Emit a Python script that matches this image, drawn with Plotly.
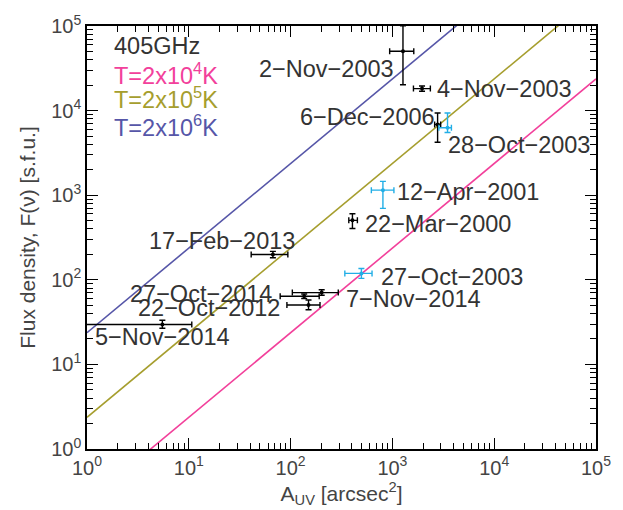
import numpy as np
import plotly.graph_objects as go

# ---------------- data ----------------
dates = ["2−Nov−2003", "4−Nov−2003", "6−Dec−2006", "28−Oct−2003", "12−Apr−2001",
         "22−Mar−2000", "27−Oct−2003", "7−Nov−2014", "17−Feb−2013", "27−Oct−2014",
         "22−Oct−2012", "5−Nov−2014"]
area = [1270, 1955, 2780, 3480, 807, 405, 496, 202, 67, 136, 150, 5.5]
area_minus = [330, 345, 180, 620, 186, 32, 155, 98, 26, 57, 58, 5.2]
area_plus = [352, 405, 200, 320, 228, 48, 135, 92, 27, 55, 44.5, 5.2]
flux = [50300, 18200, 6860, 6280, 1148, 504, 119, 70.6, 199, 64, 50.4, 29.6]
flux_minus = [30100, 1300, 2640, 780, 449, 100, 15, 4.8, 17, 4, 6.2, 2.9]
flux_plus = [50000, 1300, 2500, 3080, 310, 99, 17, 5.8, 18, 4, 7.2, 3.7]
is_cyan = [False, False, False, True, True, False, True, False, False, False, False, False]

temps = [2e4, 2e5, 2e6]
temp_labels = ["T=2x10<sup>4</sup>K", "T=2x10<sup>5</sup>K", "T=2x10<sup>6</sup>K"]
freq_hz = 405e9
tick_vals = [1, 10, 100, 1e3, 1e4, 1e5]
tick_text = ["10<sup>%d</sup>" % i for i in range(6)]

# ---------------- styles ----------------
temp_colors = ["#f2409b", "#a69e2e", "#5656a8"]
cyan = "#22aee6"
label_font = "Liberation Sans"
label_size = 23.5
# label placement: (xanchor, xshift px, yshift px)
label_pos = [("right", -7, -18), ("left", 13, 0), ("right", -1, 7), ("left", -2, -17),
             ("left", 12, -2), ("left", 11, -4), ("left", 18, -4), ("left", 22, -6),
             ("right", 24, 14), ("right", -30, 2), ("right", -27, -3), ("left", -69, -12)]

# Rayleigh-Jeans flux in sfu for 1 arcsec^2
k_b = 1.380649e-23
c = 2.998e8
arcsec2_sr = (np.pi / 180 / 3600) ** 2
a_line = np.array([1.0, 1e5])

fig = go.Figure()
for T, col in zip(temps, temp_colors):
    f_line = 2 * k_b * T * freq_hz ** 2 / c ** 2 * arcsec2_sr * a_line / 1e-22
    fig.add_trace(go.Scatter(x=a_line, y=f_line, mode="lines",
                             line=dict(color=col, width=1.6), showlegend=False,
                             hoverinfo="skip"))

for want_cyan, col in [(False, "black"), (True, cyan)]:
    idx = [i for i, cflag in enumerate(is_cyan) if cflag == want_cyan]
    fig.add_trace(go.Scatter(
        x=[area[i] for i in idx], y=[flux[i] for i in idx], mode="markers",
        marker=dict(color=col, size=4),
        error_x=dict(type="data", symmetric=False,
                     array=[area_plus[i] for i in idx],
                     arrayminus=[area_minus[i] for i in idx],
                     color=col, thickness=1.4, width=3),
        error_y=dict(type="data", symmetric=False,
                     array=[flux_plus[i] for i in idx],
                     arrayminus=[flux_minus[i] for i in idx],
                     color=col, thickness=1.4, width=3),
        showlegend=False))

for i, d in enumerate(dates):
    xa, xs, ys = label_pos[i]
    fig.add_annotation(x=np.log10(area[i]), y=np.log10(flux[i]), text=d,
                       showarrow=False, xanchor=xa, yanchor="middle",
                       xshift=xs, yshift=ys,
                       font=dict(family=label_font, size=label_size, color="#333"))

legend_y = [0.886, 0.829, 0.7634]
fig.add_annotation(x=0.05, y=0.9516, xref="paper", yref="paper", text="405GHz",
                   showarrow=False, xanchor="left", yanchor="middle",
                   font=dict(family=label_font, size=label_size, color="#333"))
for lab, col, yy in zip(temp_labels, temp_colors, legend_y):
    fig.add_annotation(x=0.05, y=yy, xref="paper", yref="paper", text=lab,
                       showarrow=False, xanchor="left", yanchor="middle",
                       font=dict(family=label_font, size=label_size, color=col))

axis_common = dict(type="log", range=[0, 5], showline=True, linecolor="black",
                   linewidth=1.5, mirror="ticks", ticks="inside", ticklen=11,
                   tickwidth=1.2, tickcolor="black", showgrid=False, zeroline=False,
                   tickvals=tick_vals, ticktext=tick_text,
                   tickfont=dict(family=label_font, size=20, color="#444"),
                   minor=dict(ticks="inside", ticklen=6, tickwidth=1, tickcolor="black",
                              dtick="D1", showgrid=False))

fig.update_layout(
    width=623, height=510,
    margin=dict(l=87, r=24, t=16, b=61),
    plot_bgcolor="white", paper_bgcolor="white",
    xaxis=dict(axis_common, title=dict(text="A<sub>UV</sub> [arcsec<sup>2</sup>]",
                                        font=dict(family=label_font, size=21, color="#444"),
                                        standoff=4)),
    yaxis=dict(axis_common, title=dict(text="Flux density, F(ν) [s.f.u.]",
                                        font=dict(family=label_font, size=21, color="#444"),
                                        standoff=10)),
)

fig.write_html("out.html")
